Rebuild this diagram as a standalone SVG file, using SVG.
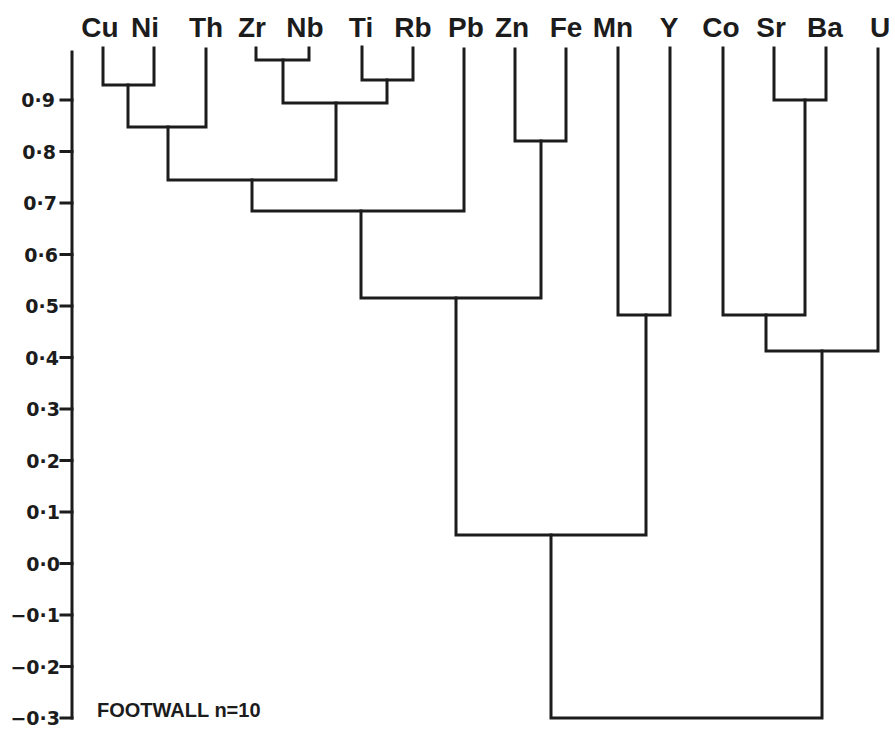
<svg xmlns="http://www.w3.org/2000/svg" width="895" height="731" viewBox="0 0 895 731">
  <style>
    .bg { fill: #ffffff; }
    .ln { fill: none; stroke: #1c1c1c; stroke-width: 3; stroke-linecap: square; stroke-linejoin: miter; }
    .leaf { font-family: "Liberation Sans", Arial, sans-serif; font-size: 28px; font-weight: bold; fill: #1c1c1c; text-anchor: middle; }
    .tick { font-family: "DejaVu Sans", "Liberation Sans", sans-serif; font-size: 19px; font-weight: bold; fill: #1c1c1c; text-anchor: end; }
    .note { font-family: "Liberation Sans", Arial, sans-serif; font-size: 20px; font-weight: bold; fill: #1c1c1c; }
  </style>
  <rect class="bg" x="0" y="0" width="895" height="731"/>

  <!-- vertical scale -->
  <g id="axis">
    <path class="ln" d="M72 52 V718"/>
    <path class="ln" d="M61 100 H72 M61 151.5 H72 M61 203 H72 M61 254.5 H72 M61 306 H72 M61 357.5 H72 M61 409 H72 M61 460.5 H72 M61 512 H72 M61 563.5 H72 M61 615 H72 M61 666.5 H72 M61 718 H72"/>
    <text class="tick" x="55" y="107">0·9</text>
    <text class="tick" x="56" y="158.5">0·8</text>
    <text class="tick" x="57" y="210">0·7</text>
    <text class="tick" x="58" y="261.5">0·6</text>
    <text class="tick" x="59" y="313">0·5</text>
    <text class="tick" x="59" y="364.5">0·4</text>
    <text class="tick" x="60" y="416">0·3</text>
    <text class="tick" x="60" y="467.5">0·2</text>
    <text class="tick" x="60" y="519">0·1</text>
    <text class="tick" x="60" y="570.5">0·0</text>
    <text class="tick" x="60" y="622">−0·1</text>
    <text class="tick" x="60" y="673.5">−0·2</text>
    <text class="tick" x="60" y="725">−0·3</text>
  </g>

  <!-- element labels -->
  <g id="Cu"><text class="leaf" x="100" y="37">Cu</text></g>
  <g id="Ni"><text class="leaf" x="145" y="37">Ni</text></g>
  <g id="Th"><text class="leaf" x="206" y="37">Th</text></g>
  <g id="Zr"><text class="leaf" x="252" y="37">Zr</text></g>
  <g id="Nb"><text class="leaf" x="305" y="37">Nb</text></g>
  <g id="Ti"><text class="leaf" x="361" y="37">Ti</text></g>
  <g id="Rb"><text class="leaf" x="413" y="37">Rb</text></g>
  <g id="Pb"><text class="leaf" x="466" y="37">Pb</text></g>
  <g id="Zn"><text class="leaf" x="512" y="37">Zn</text></g>
  <g id="Fe"><text class="leaf" x="566" y="37">Fe</text></g>
  <g id="Mn"><text class="leaf" x="613" y="37">Mn</text></g>
  <g id="Y"><text class="leaf" x="669" y="37">Y</text></g>
  <g id="Co"><text class="leaf" x="721" y="37">Co</text></g>
  <g id="Sr"><text class="leaf" x="771" y="37">Sr</text></g>
  <g id="Ba"><text class="leaf" x="825" y="37">Ba</text></g>
  <g id="U"><text class="leaf" x="880" y="37">U</text></g>

  <!-- dendrogram links -->
  <g id="connectors">
    <path class="ln" d="M103 48 V85 H154 V48"/>
    <path class="ln" d="M128 85 V127 H206 V49"/>
    <path class="ln" d="M256 48 V60 H309 V48"/>
    <path class="ln" d="M362 47 V80 H413 V48"/>
    <path class="ln" d="M283 60 V103 H387 V80"/>
    <path class="ln" d="M168 127 V180 H336 V103"/>
    <path class="ln" d="M252 180 V211 H464 V49"/>
    <path class="ln" d="M515 49 V141 H566 V49"/>
    <path class="ln" d="M361 211 V298 H541 V141"/>
    <path class="ln" d="M618 48 V315 H670 V48"/>
    <path class="ln" d="M456 298 V535 H646 V315"/>
    <path class="ln" d="M774 48 V100 H826 V48"/>
    <path class="ln" d="M723 48 V315 H805 V100"/>
    <path class="ln" d="M766 315 V351 H878 V49"/>
    <path class="ln" d="M551 535 V718 H822 V351"/>
  </g>

  <g id="caption">
    <text class="note" x="97" y="717">FOOTWALL n=10</text>
  </g>
</svg>
